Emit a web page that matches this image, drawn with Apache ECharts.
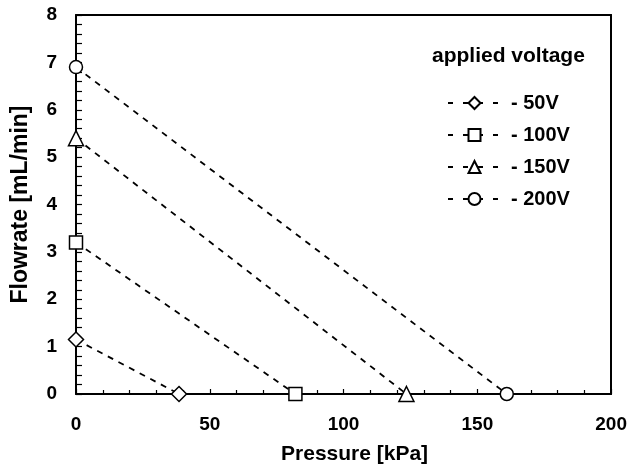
<!DOCTYPE html>
<html>
<head>
<meta charset="utf-8">
<script src="https://cdn.jsdelivr.net/npm/echarts@6/dist/echarts.min.js"></script>
<style>
  html, body { margin: 0; padding: 0; background: #fff; }
  #chart { width: 630px; height: 470px; }
</style>
</head>
<body>
<div id="chart"></div>
<script>
// voltages and their flowrate vs pressure endpoints
const voltages = ['50V', '100V', '150V', '200V'];
const symbols = ['diamond', 'rect', 'triangle', 'circle'];
const pressure50 = [0, 38.5];
const flow50 = [1.15, 0];
const pressure100 = [0, 82];
const flow100 = [3.2, 0];
const pressure150 = [0, 123.5];
const flow150 = [5.4, 0];
const pressure200 = [0, 161];
const flow200 = [6.9, 0];

const pressures = [pressure50, pressure100, pressure150, pressure200];
const flows = [flow50, flow100, flow150, flow200];

const font = '"Liberation Sans", Arial, sans-serif';
const chart = echarts.init(document.getElementById('chart'));

const series = voltages.map((v, i) => ({
  name: '- ' + v,
  type: 'line',
  symbol: symbols[i],
  symbolSize: (i === 0 || i === 2) ? 15 : 13,
  showAllSymbol: true,
  data: pressures[i].map((p, j) => [p, flows[i][j]]),
  lineStyle: { color: '#000', width: 1.8, type: [6, 6] },
  itemStyle: { color: '#fff', borderColor: '#000', borderWidth: 1.5 },
  emphasis: { disabled: true },
  z: 3
}));

const tickLabel = { fontFamily: font, fontWeight: 'bold', fontSize: 19, color: '#000' };
const line = { show: true, onZero: false, lineStyle: { color: '#000', width: 2 } };

// plain axes on top and right, only to close the frame
const frameX = {
  type: 'value', position: 'top', min: 0, max: 200,
  axisLine: line, axisTick: { show: false }, axisLabel: { show: false }, splitLine: { show: false }
};
const frameY = {
  type: 'value', position: 'right', min: 0, max: 8,
  axisLine: line, axisTick: { show: false }, axisLabel: { show: false }, splitLine: { show: false }
};

chart.setOption({
  animation: false,
  grid: { left: 76, right: 18, top: 15, bottom: 76 },
  title: {
    text: 'applied voltage',
    left: 427, top: 41,
    textStyle: { fontFamily: font, fontWeight: 'bold', fontSize: 21, color: '#000' }
  },
  legend: {
    orient: 'vertical',
    left: 442, top: 88,
    itemGap: 12,
    itemWidth: 53,
    itemHeight: 15,
    lineStyle: { color: '#000', width: 2, type: [5, 10] },
    textStyle: {
      fontFamily: font, fontWeight: 'bold', fontSize: 20, color: '#000',
      lineHeight: 20, padding: [0, 0, 0, 5]
    },
    data: voltages.map(v => '- ' + v)
  },
  xAxis: [{
    type: 'value',
    min: 0, max: 200, interval: 50,
    name: 'Pressure [kPa]',
    nameLocation: 'middle',
    nameGap: 50,
    nameTextStyle: { fontFamily: font, fontWeight: 'bold', fontSize: 21, color: '#000', padding: [0, 0, 0, 22] },
    axisLine: line,
    axisTick: { show: true, inside: true, length: 5, lineStyle: { color: '#000', width: 1.2 } },
    minorTick: { show: true, splitNumber: 5, length: 4, lineStyle: { color: '#000', width: 1.2 } },
    splitLine: { show: false },
    axisLabel: Object.assign({ margin: 21 }, tickLabel)
  }, frameX],
  yAxis: [{
    type: 'value',
    min: 0, max: 8, interval: 1,
    name: 'Flowrate [mL/min]',
    nameLocation: 'middle',
    nameGap: 44,
    nameTextStyle: { fontFamily: font, fontWeight: 'bold', fontSize: 23, color: '#000' },
    axisLine: line,
    axisTick: { show: true, inside: true, length: 6, lineStyle: { color: '#000', width: 1.2 } },
    minorTick: { show: true, splitNumber: 5, length: 6, lineStyle: { color: '#000', width: 1.2 } },
    splitLine: { show: false },
    axisLabel: Object.assign({ margin: 19 }, tickLabel)
  }, frameY],
  series: series
});
</script>
</body>
</html>
